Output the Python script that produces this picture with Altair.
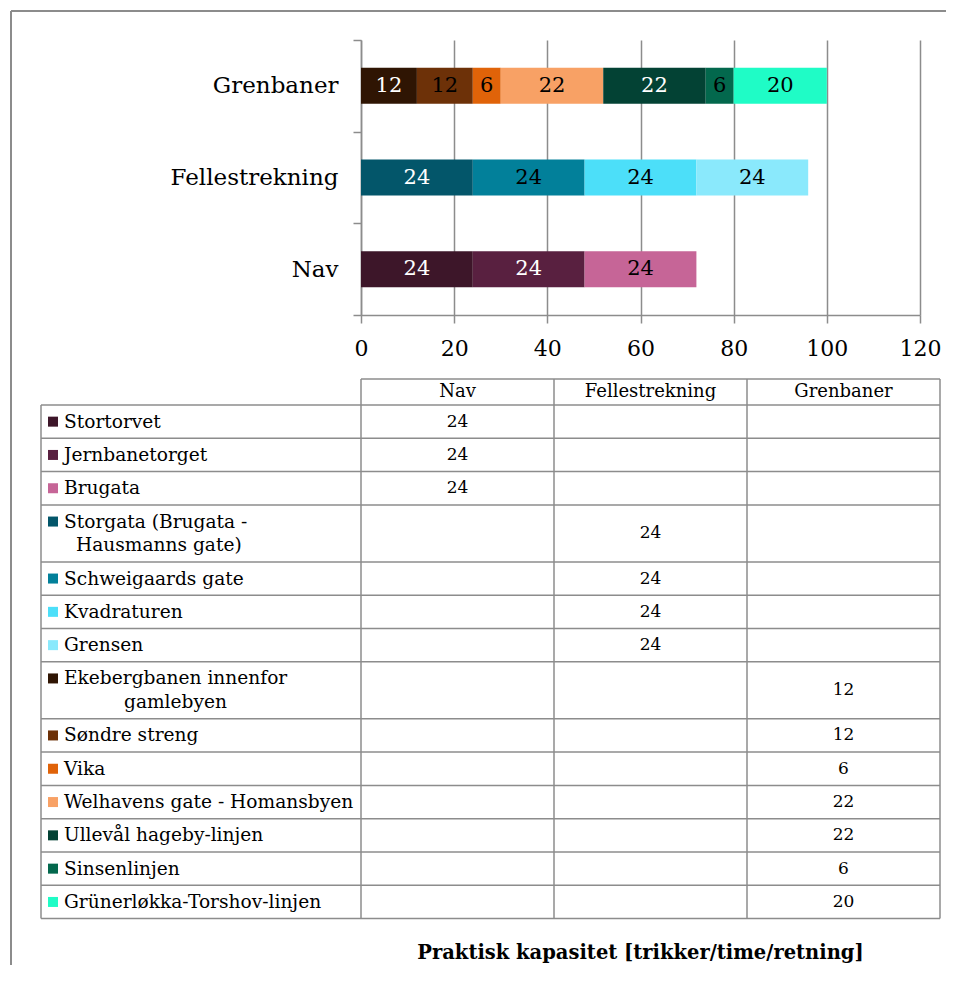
import altair as alt
import pandas as pd

# ---------------- data ----------------
table_cols = ["Nav", "Fellestrekning", "Grenbaner"]
bar_order = ["Grenbaner", "Fellestrekning", "Nav"]
series = [
    "Stortorvet", "Jernbanetorget", "Brugata",
    "Storgata (Brugata - Hausmanns gate)", "Schweigaards gate", "Kvadraturen", "Grensen",
    "Ekebergbanen innenfor gamlebyen", "Søndre streng", "Vika", "Welhavens gate - Homansbyen",
    "Ullevål hageby-linjen", "Sinsenlinjen", "Grünerløkka-Torshov-linjen",
]
series_group = ["Nav"] * 3 + ["Fellestrekning"] * 4 + ["Grenbaner"] * 7
values = [24, 24, 24, 24, 24, 24, 24, 12, 12, 6, 22, 22, 6, 20]
label_line1 = [
    "Stortorvet", "Jernbanetorget", "Brugata",
    "Storgata (Brugata -", "Schweigaards gate", "Kvadraturen", "Grensen",
    "Ekebergbanen innenfor", "Søndre streng", "Vika",
    "Welhavens gate - Homansbyen", "Ullevål hageby-linjen", "Sinsenlinjen", "Grünerløkka-Torshov-linjen",
]
label_line2 = ["", "", "", "Hausmanns gate)", "", "", "", "gamlebyen", "", "", "", "", "", ""]
x_ticks = [0, 20, 40, 60, 80, 100, 120]
title_text = "Praktisk kapasitet [trikker/time/retning]"

# ---------------- styles ----------------
colors = [
    "#3d1629", "#592040", "#c66597",
    "#03566a", "#02809a", "#4cdff9", "#8ae9fc",
    "#2f1503", "#6d3108", "#e06309", "#f8a165", "#034234", "#03684d", "#1ffcc6",
]
text_colors = [
    "white", "white", "black",
    "white", "black", "black", "black",
    "white", "black", "black", "black", "white", "black", "black",
]
line2_indent = [0, 0, 0, 12, 0, 0, 0, 60, 0, 0, 0, 0, 0, 0]
FONT = "DejaVu Serif"
GRID = "#8c8c8c"
LABEL_W = 320
COL_W = 193
HEAD_H = 26
ROW_PAD = 9.6
LINE_H = 23.7
LBL_SIZE = 18.6

# ---------------- bar chart ----------------
bar_df = pd.DataFrame({
    "group": series_group, "series": series, "value": values,
    "order": list(range(len(series))), "color": colors, "tcolor": text_colors,
})

xscale = alt.Scale(domain=[0, 120], nice=False)
xaxis = alt.Axis(title=None, values=x_ticks, grid=True, gridColor=GRID, gridWidth=1.5,
                 domainColor=GRID, domainWidth=1.5, tickColor=GRID, tickWidth=1.5, tickSize=8,
                 labelFont=FONT, labelFontSize=22, labelColor="black", labelPadding=15,
                 labelFlush=False)
yscale = alt.Scale(domain=bar_order, paddingInner=0, paddingOuter=0)
yaxis = alt.Axis(title=None, tickBand="extent", ticks=True, tickSize=8, tickColor=GRID, tickWidth=1.5,
                 domainColor=GRID, domainWidth=1.5, labelFont=FONT, labelFontSize=23,
                 labelColor="black", labelPadding=15, grid=False)

bars = alt.Chart(bar_df).mark_bar(size=36).encode(
    x=alt.X("value:Q", stack="zero", scale=xscale, axis=xaxis),
    y=alt.Y("group:N", scale=yscale, axis=yaxis),
    color=alt.Color("color:N", scale=None),
    order=alt.Order("order:Q"),
)

bar_labels = alt.Chart(bar_df).transform_window(
    cum="sum(value)", groupby=["group"], sort=[alt.SortField("order")], frame=[None, 0]
).transform_calculate(
    mid="datum.cum - datum.value / 2"
).mark_text(font=FONT, fontSize=21, baseline="middle").encode(
    x=alt.X("mid:Q", scale=xscale, axis=xaxis),
    y=alt.Y("group:N", scale=yscale, axis=yaxis),
    text="value:Q",
    color=alt.Color("tcolor:N", scale=None),
)

frame_df = pd.DataFrame({"k": [0]})
frame_top = alt.Chart(frame_df).mark_rule(color=GRID, strokeWidth=2).encode(
    x=alt.value(-350), x2=alt.value(585), y=alt.value(-29))
frame_left = alt.Chart(frame_df).mark_rule(color=GRID, strokeWidth=2).encode(
    x=alt.value(-350), y=alt.value(-29), y2=alt.value(925))

bar_chart = alt.layer(frame_top, frame_left, bars, bar_labels).properties(width=559, height=275)

# ---------------- data table ----------------
n_lines = [2 if l2 else 1 for l2 in label_line2]
heights = [ROW_PAD + LINE_H * n for n in n_lines]
tops = []
t = HEAD_H
for h in heights:
    tops.append(t)
    t += h
bottom = t
TW = 3 * COL_W
TH = bottom

col_center = {g: COL_W * (i + 0.5) for i, g in enumerate(table_cols)}
rows_df = pd.DataFrame({
    "line1": label_line1,
    "line2": label_line2,
    "value": values,
    "color": colors,
    "mid": [tp + h / 2 for tp, h in zip(tops, heights)],
    "first": [tp + ROW_PAD / 2 + LINE_H / 2 for tp in tops],
    "second": [tp + ROW_PAD / 2 + LINE_H * 1.5 for tp in tops],
    "vx": [col_center[g] for g in series_group],
    "sx": [-LABEL_W + 12] * len(series),
    "lx": [-LABEL_W + 23] * len(series),
    "lx2": [-LABEL_W + 23 + d for d in line2_indent],
})
rows2_df = rows_df[rows_df["line2"] != ""]

lines = [dict(x=0, x2=TW, y=0, y2=0)]
for b in [HEAD_H] + [tp + h for tp, h in zip(tops, heights)]:
    lines.append(dict(x=-LABEL_W, x2=TW, y=b, y2=b))
lines.append(dict(x=-LABEL_W, x2=-LABEL_W, y=HEAD_H, y2=bottom))
for i in range(4):
    lines.append(dict(x=i * COL_W, x2=i * COL_W, y=0, y2=bottom))
lines_df = pd.DataFrame(lines)

head_df = pd.DataFrame({"name": table_cols, "x": [col_center[g] for g in table_cols], "y": [HEAD_H / 2] * 3})

tx = alt.Scale(domain=[0, TW], nice=False, zero=False)
ty = alt.Scale(domain=[0, TH], nice=False, zero=False, reverse=True)

grid = alt.Chart(lines_df).mark_rule(color=GRID, strokeWidth=1.5).encode(
    x=alt.X("x:Q", scale=tx, axis=None), x2="x2:Q",
    y=alt.Y("y:Q", scale=ty, axis=None), y2="y2:Q")

header = alt.Chart(head_df).mark_text(font=FONT, fontSize=18, baseline="middle", color="black").encode(
    x=alt.X("x:Q", scale=tx, axis=None), y=alt.Y("y:Q", scale=ty, axis=None), text="name:N")

squares = alt.Chart(rows_df).mark_square(size=100, opacity=1).encode(
    x=alt.X("sx:Q", scale=tx, axis=None), y=alt.Y("first:Q", scale=ty, axis=None),
    color=alt.Color("color:N", scale=None))

row_labels1 = alt.Chart(rows_df).mark_text(
    font=FONT, fontSize=LBL_SIZE, align="left", baseline="middle", color="black").encode(
    x=alt.X("lx:Q", scale=tx, axis=None), y=alt.Y("first:Q", scale=ty, axis=None), text="line1:N")

row_labels2 = alt.Chart(rows2_df).mark_text(
    font=FONT, fontSize=LBL_SIZE, align="left", baseline="middle", color="black").encode(
    x=alt.X("lx2:Q", scale=tx, axis=None), y=alt.Y("second:Q", scale=ty, axis=None), text="line2:N")

row_vals = alt.Chart(rows_df).mark_text(font=FONT, fontSize=17, baseline="middle", color="black").encode(
    x=alt.X("vx:Q", scale=tx, axis=None), y=alt.Y("mid:Q", scale=ty, axis=None), text="value:Q")

table = alt.layer(grid, header, squares, row_labels1, row_labels2, row_vals).properties(
    width=TW, height=TH,
    title=alt.TitleParams(title_text, orient="bottom", anchor="middle", font=FONT, fontSize=19.5,
                          fontWeight="bold", color="black", offset=25, dx=-10),
)

chart = alt.vconcat(bar_chart, table, spacing=64, bounds="flush").properties(
    padding=2
).configure_view(stroke=None)

chart.save("out.html", embed_options={"renderer": "svg", "actions": False})
